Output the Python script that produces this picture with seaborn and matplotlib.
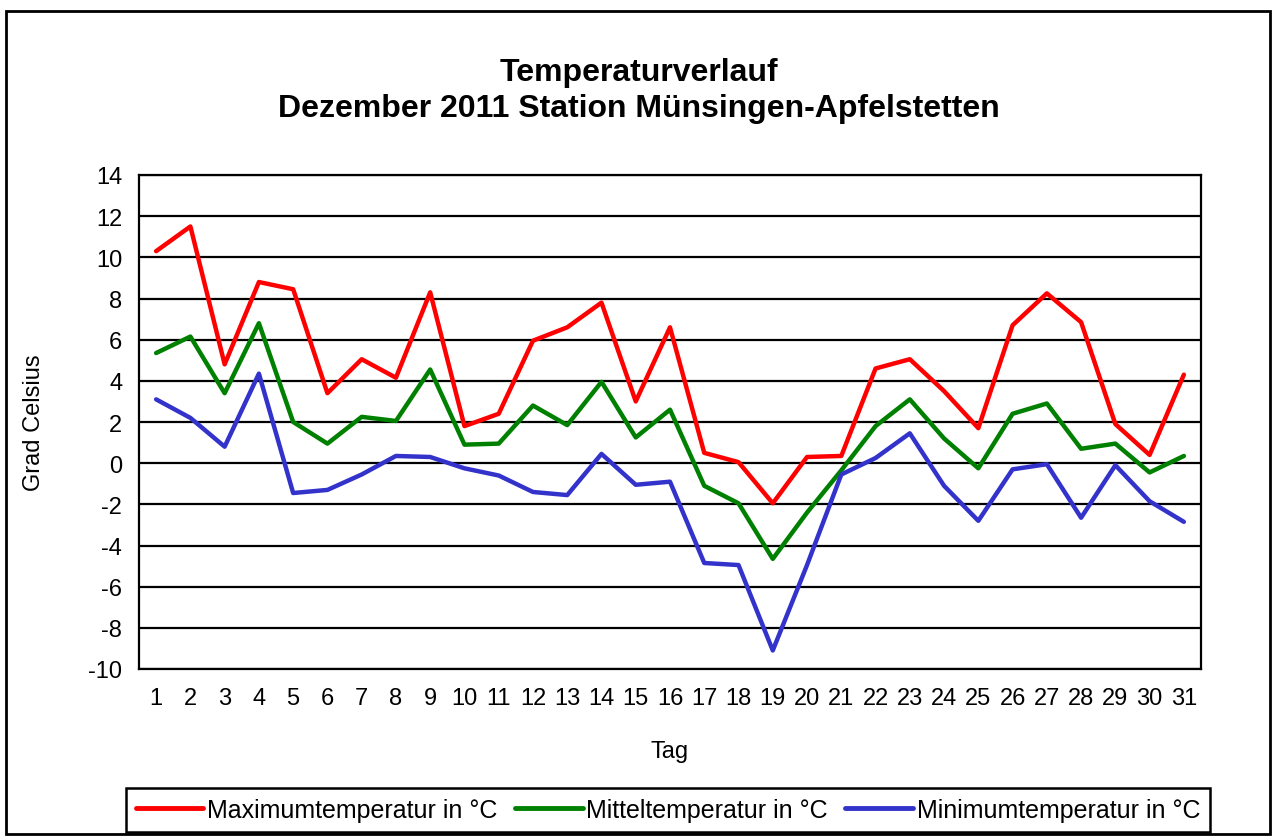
import matplotlib
matplotlib.use("Agg")
import matplotlib.pyplot as plt
import seaborn as sns
import pandas as pd
import numpy as np
from matplotlib.patches import Rectangle

days = list(range(1, 32))
t_max = [10.3, 11.5, 4.8, 8.8, 8.45, 3.4, 5.05, 4.15, 8.3, 1.8,
         2.4, 5.95, 6.6, 7.8, 3.0, 6.6, 0.5, 0.05, -1.95, 0.3,
         0.35, 4.6, 5.05, 3.5, 1.7, 6.7, 8.25, 6.85, 1.9, 0.4, 4.3]
t_mittel = [5.35, 6.15, 3.4, 6.8, 2.0, 0.95, 2.25, 2.05, 4.55, 0.9,
            0.95, 2.8, 1.85, 3.95, 1.25, 2.6, -1.1, -1.95, -4.65, -2.4,
            -0.35, 1.8, 3.1, 1.2, -0.25, 2.4, 2.9, 0.7, 0.95, -0.45, 0.35]
t_min = [3.1, 2.2, 0.8, 4.35, -1.45, -1.3, -0.55, 0.35, 0.3, -0.25,
         -0.6, -1.4, -1.55, 0.45, -1.05, -0.9, -4.85, -4.95, -9.1, -4.95,
         -0.55, 0.25, 1.45, -1.1, -2.8, -0.3, -0.05, -2.65, -0.1, -1.85, -2.85]
series_names = ["Maximumtemperatur in °C", "Mitteltemperatur in °C", "Minimumtemperatur in °C"]
series_colors = ["#FF0000", "#008000", "#3333CC"]
y_ticks = list(range(-10, 15, 2))
title_text = "Temperaturverlauf\nDezember 2011 Station Münsingen-Apfelstetten"

df = pd.concat([
    pd.DataFrame({"Tag": days, "Wert": vals, "Reihe": name})
    for name, vals in zip(series_names, [t_max, t_mittel, t_min])
], ignore_index=True)

sns.set_theme(style="white")
plt.rcParams["font.family"] = ["Liberation Sans", "DejaVu Sans"]
plt.rcParams["text.color"] = "black"
plt.rcParams["axes.labelcolor"] = "black"
plt.rcParams["xtick.color"] = "black"
plt.rcParams["ytick.color"] = "black"

fig = plt.figure(figsize=(12.78, 8.37), dpi=100)
ax = fig.add_axes([139/1278, 1-670/837, (1201-139)/1278, (670-176)/837])

sns.lineplot(data=df, x="Tag", y="Wert", hue="Reihe", palette=series_colors,
             hue_order=series_names, linewidth=3.2, ax=ax, legend=True, sort=False)

ax.set_xlim(0.5, 31.5)
ax.set_ylim(-10, 14)
ax.set_yticks(y_ticks)
ax.set_yticklabels([str(v) for v in y_ticks], fontsize=17)
ax.set_xticks(days)
ax.set_xticklabels([str(d) for d in days], fontsize=17)
ax.set_xticks(np.arange(0.5, 32, 1.0), minor=True)
ax.tick_params(axis="x", which="major", length=0, pad=13)
ax.tick_params(axis="x", which="minor", length=8, width=1.5, color="black", direction="out")
ax.tick_params(axis="y", which="major", length=8, width=1.5, color="black", direction="out", pad=4)
for ytk in y_ticks:
    ax.axhline(ytk, color="black", linewidth=1.6, zorder=1)
for side in ["left", "right", "top", "bottom"]:
    ax.spines[side].set_color("black")
    ax.spines[side].set_linewidth(1.6)
ax.set_xlabel("Tag", fontsize=17, labelpad=22)
ax.set_ylabel("Grad Celsius", fontsize=17, labelpad=31)

fig.text(0.5, 1-91/837, title_text, ha="center", va="center",
         fontsize=23, fontweight="bold", linespacing=1.3)

handles, labels = ax.get_legend_handles_labels()
ax.get_legend().remove()
leg = fig.legend(handles, labels, loc="center", ncol=3,
                 bbox_to_anchor=((125+1211)/2/1278, 1-811/837),
                 fontsize=18, frameon=True, fancybox=False, edgecolor="black",
                 framealpha=1.0,
                 handlelength=2.7, handletextpad=0.15, columnspacing=0.7,
                 borderpad=0.4, borderaxespad=0)
leg.get_frame().set_linewidth(1.8)
for ln in leg.get_lines():
    ln.set_linewidth(3.5)

fig.patches.append(Rectangle((6/1278, 1-835/837), (1270-6)/1278, (835-12)/837,
                             transform=fig.transFigure, fill=False,
                             edgecolor="black", linewidth=2.0))

fig.savefig("out.png", dpi=100)
